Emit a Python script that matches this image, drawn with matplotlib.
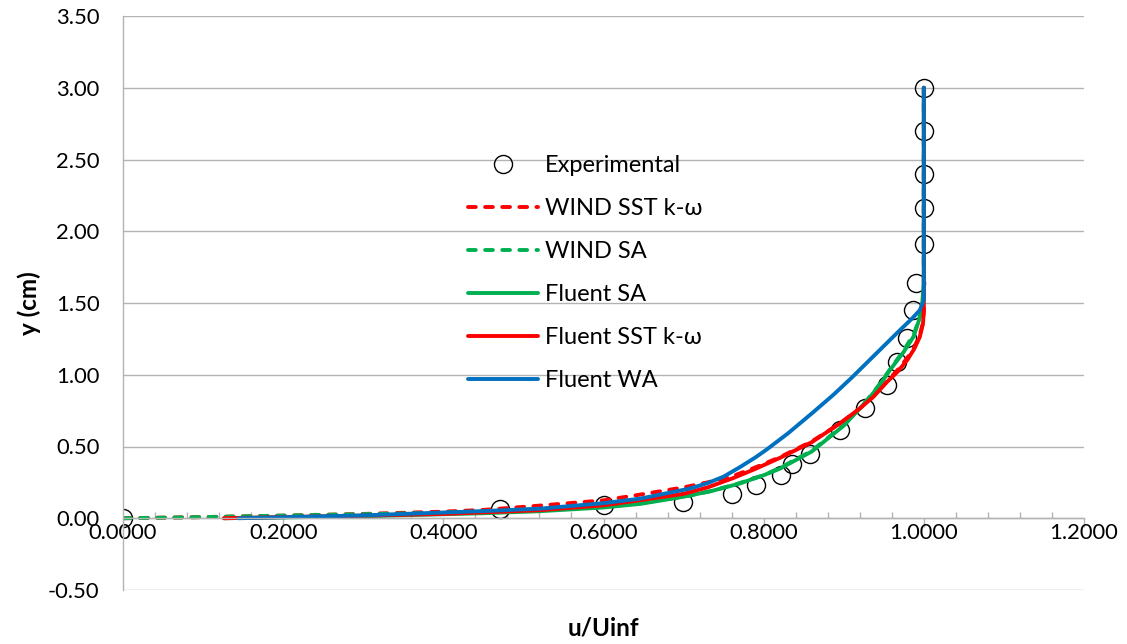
import matplotlib
matplotlib.use("Agg")
import matplotlib.pyplot as plt
from matplotlib.ticker import MultipleLocator, FormatStrFormatter

plt.rcParams['font.family'] = ['Lato', 'DejaVu Sans']

# experimental data
exp_u = [0.0, 0.471, 0.600, 0.699, 0.760, 0.791, 0.822, 0.836, 0.858, 0.895,
         0.927, 0.954, 0.966, 0.979, 0.986, 0.990, 1.0, 1.0, 1.0, 1.0, 1.0]
exp_y = [0.0, 0.063, 0.09, 0.112, 0.172, 0.235, 0.30, 0.377, 0.446, 0.614,
         0.765, 0.932, 1.09, 1.253, 1.45, 1.637, 1.91, 2.16, 2.40, 2.70, 3.0]

# WIND SST k-w
wsst_u = [0.0, 0.1, 0.2, 0.3, 0.4, 0.45, 0.52, 0.6, 0.646, 0.7, 0.73, 0.762,
          0.79, 0.82, 0.86, 0.895, 0.92, 0.937, 0.955, 0.97, 0.985, 0.994,
          0.999, 1.0, 1.0]
wsst_y = [0.0, 0.008, 0.018, 0.03, 0.046, 0.058, 0.088, 0.125, 0.165, 0.215,
          0.25, 0.295, 0.355, 0.425, 0.535, 0.66, 0.765, 0.85, 0.96, 1.05,
          1.16, 1.26, 1.36, 1.45, 3.0]

# WIND SA
wsa_u = [0.0, 0.1, 0.221, 0.387, 0.5, 0.6, 0.65, 0.7, 0.735, 0.77, 0.8, 0.82,
         0.86, 0.9, 0.93, 0.945, 0.958, 0.975, 0.988, 0.995, 0.999, 1.0, 1.0]
wsa_y = [0.0, 0.008, 0.021, 0.037, 0.055, 0.085, 0.11, 0.15, 0.19, 0.245, 0.3,
         0.35, 0.47, 0.65, 0.83, 0.935, 1.04, 1.17, 1.29, 1.4, 1.5, 1.6, 3.0]

# Fluent SA
fsa_u = [0.126, 0.2, 0.3, 0.45, 0.52, 0.6, 0.646, 0.7, 0.735, 0.77, 0.8, 0.82,
         0.86, 0.9, 0.93, 0.945, 0.958, 0.975, 0.987, 0.994, 0.998, 1.0, 1.0]
fsa_y = [0.0, 0.006, 0.014, 0.035, 0.049, 0.075, 0.10, 0.15, 0.19, 0.242, 0.3,
         0.345, 0.465, 0.645, 0.825, 0.93, 1.035, 1.16, 1.264, 1.38, 1.5, 1.65, 3.0]

# Fluent SST k-w
fsst_u = [0.126, 0.2, 0.3, 0.4, 0.52, 0.6, 0.646, 0.7, 0.73, 0.762, 0.79, 0.82,
          0.86, 0.895, 0.92, 0.937, 0.954, 0.967, 0.979, 0.988, 0.995, 0.999,
          1.0, 1.0]
fsst_y = [0.0, 0.008, 0.018, 0.03, 0.056, 0.09, 0.126, 0.17, 0.215, 0.28, 0.345,
          0.42, 0.53, 0.66, 0.765, 0.846, 0.95, 1.02, 1.10, 1.18, 1.264, 1.36,
          1.45, 3.0]

# Fluent WA
fwa_u = [0.144, 0.3, 0.45, 0.521, 0.6, 0.646, 0.708, 0.73, 0.75, 0.77, 0.79,
         0.804, 0.83, 0.86, 0.887, 0.91, 0.93, 0.95, 0.97, 0.985, 0.995, 1.0, 1.0]
fwa_y = [0.0, 0.02, 0.05, 0.067, 0.105, 0.137, 0.207, 0.245, 0.29, 0.355, 0.425,
         0.48, 0.59, 0.73, 0.86, 0.98, 1.09, 1.2, 1.31, 1.39, 1.45, 1.52, 3.0]

red = '#FF0000'
green = '#00B050'
blue = '#0070C0'
grid = '#B3B3B3'
lw = 2.8
dash = (2.0, 2.4)

fig = plt.figure(figsize=(11.27, 6.44), dpi=100)
ax = fig.add_axes([123 / 1127, 1 - 590 / 644, 961 / 1127, 574 / 644])

ax.plot(exp_u, exp_y, linestyle='none', marker='o', markersize=13,
        markerfacecolor='none', markeredgecolor='black', markeredgewidth=1.0,
        label='Experimental')
ax.plot(wsst_u, wsst_y, color=red, lw=lw, dashes=dash, dash_capstyle='round',
        label='WIND SST k-ω')
ax.plot(wsa_u, wsa_y, color=green, lw=lw, dashes=dash, dash_capstyle='round',
        label='WIND SA')
ax.plot(fsa_u, fsa_y, color=green, lw=lw, solid_capstyle='round', label='Fluent SA')
ax.plot(fsst_u, fsst_y, color=red, lw=lw, solid_capstyle='round', label='Fluent SST k-ω')
ax.plot(fwa_u, fwa_y, color=blue, lw=lw, solid_capstyle='round', label='Fluent WA')

ax.set_xlim(0, 1.2)
ax.set_ylim(-0.5, 3.5)
ax.xaxis.set_major_locator(MultipleLocator(0.2))
ax.xaxis.set_minor_locator(MultipleLocator(0.04))
ax.yaxis.set_major_locator(MultipleLocator(0.5))
ax.xaxis.set_major_formatter(FormatStrFormatter('%.4f'))
ax.yaxis.set_major_formatter(FormatStrFormatter('%.2f'))

ax.grid(axis='y', color=grid, lw=1.0)
ax.set_axisbelow(True)
for s in ['top', 'right']:
    ax.spines[s].set_visible(False)
ax.spines['bottom'].set_position(('data', 0))
ax.spines['bottom'].set_color(grid)
ax.spines['left'].set_color(grid)
ax.spines['bottom'].set_linewidth(1.0)
ax.spines['left'].set_linewidth(1.0)

ax.tick_params(axis='y', length=0, pad=17, labelsize=15.8, labelcolor='black')
ax.tick_params(axis='x', which='major', direction='out', length=6.5, width=1.0,
               color=grid, pad=-3, labelsize=15.8, labelcolor='black')
ax.tick_params(axis='x', which='minor', direction='in', length=4, width=1.0, color=grid)

ax.set_xlabel('u/Uinf', fontsize=17.5, fontweight='bold')
ax.set_ylabel('y (cm)', fontsize=17.5, fontweight='bold')
ax.xaxis.set_label_coords(0.5, -0.047)
ax.yaxis.set_label_coords(-0.085, 0.5)

ax.legend(loc='upper left', bbox_to_anchor=(468 / 1127, 1 - 155 / 644),
          bbox_transform=fig.transFigure, frameon=False, fontsize=17,
          borderpad=0, borderaxespad=0, handlelength=2.97, handletextpad=0.28,
          labelspacing=0.93, numpoints=1)

fig.savefig('out.png', dpi=100)
